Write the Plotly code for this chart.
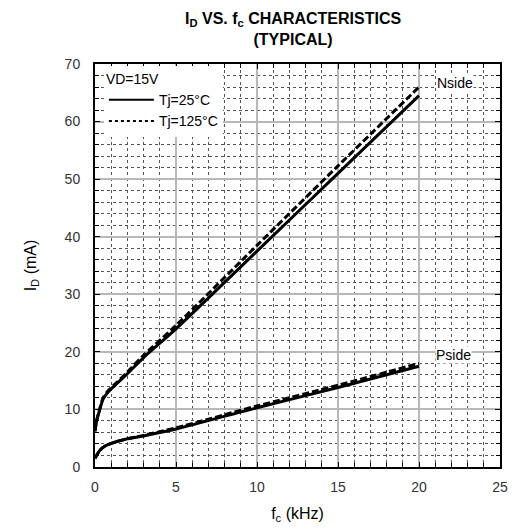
import plotly.graph_objects as go

# Data
fc_n = [0, 0.1, 0.3, 0.5, 0.8, 1.2, 2, 3, 5, 10, 15, 20]
id_n_25 = [6.2, 8.0, 10.0, 11.8, 13.0, 14.1, 16.2, 19.0, 24.0, 37.5, 51.0, 64.5]
id_n_125 = [6.2, 8.1, 10.2, 12.0, 13.2, 14.3, 16.5, 19.4, 24.6, 38.5, 52.3, 66.0]

fc_p = [0, 0.3, 0.6, 1, 2, 3, 5, 10, 15, 20]
id_p_25 = [1.5, 2.9, 3.6, 4.1, 4.9, 5.4, 6.6, 10.3, 13.8, 17.5]
id_p_125 = [1.5, 2.9, 3.6, 4.1, 4.9, 5.5, 6.8, 10.6, 14.2, 18.0]

x_ticks = [0, 5, 10, 15, 20, 25]
y_ticks = [0, 10, 20, 30, 40, 50, 60, 70]

FONT = "Arial, Liberation Sans, sans-serif"

fig = go.Figure()
for xs, ys, dash in [(fc_n, id_n_25, "solid"), (fc_n, id_n_125, "7px,3px"),
                     (fc_p, id_p_25, "solid"), (fc_p, id_p_125, "7px,3px")]:
    fig.add_trace(go.Scatter(x=xs, y=ys, mode="lines", showlegend=False,
                             line=dict(color="black", width=3, dash=dash, shape="spline", smoothing=0.8)))

# legend samples
fig.add_trace(go.Scatter(x=[None], y=[None], mode="lines", name="Tj=25°C",
                         line=dict(color="black", width=2)))
fig.add_trace(go.Scatter(x=[None], y=[None], mode="lines", name="Tj=125°C",
                         line=dict(color="black", width=2, dash="dot")))

fig.add_annotation(x=22.2, y=66.7, text="Nside", showarrow=False, bgcolor="white",
                   font=dict(family=FONT, size=14, color="black"), borderpad=0)
fig.add_annotation(x=22.1, y=19.5, text="Pside", showarrow=False, bgcolor="white",
                   font=dict(family=FONT, size=14, color="black"), borderpad=0)

fig.add_annotation(xref="paper", yref="paper", x=0.49, y=1, xanchor="center", yanchor="bottom",
                   yshift=14, showarrow=False,
                   text="<b>I<sub>D</sub> VS. f<sub>c</sub> CHARACTERISTICS<br>(TYPICAL)</b>",
                   font=dict(family=FONT, size=16, color="black"))

axis_common = dict(showline=True, linecolor="black", linewidth=2, mirror="allticks",
                   ticks="inside", ticklen=5, tickcolor="black", automargin=False,
                   showgrid=True, gridcolor="#b8b8b8", gridwidth=2,
                   zeroline=False, tickfont=dict(family=FONT, size=14, color="#333"))

fig.update_xaxes(range=[0, 25], tickvals=x_ticks, ticktext=[str(v) for v in x_ticks],
                 ticklabelstandoff=6,
                 minor=dict(dtick=1, tick0=0, showgrid=True, gridcolor="#555", griddash="dot",
                            gridwidth=1, ticks="inside", ticklen=4, tickcolor="black"),
                 title=dict(text="f<sub>c</sub> (kHz)", font=dict(family=FONT, size=16, color="black"),
                            standoff=14),
                 **axis_common)
fig.update_yaxes(range=[0, 70], tickvals=y_ticks, ticktext=[str(v) for v in y_ticks],
                 ticklabelstandoff=10,
                 minor=dict(dtick=2, tick0=0, showgrid=True, gridcolor="#555", griddash="dot",
                            gridwidth=1, ticks="inside", ticklen=4, tickcolor="black"),
                 title=dict(text="I<sub>D</sub> (mA)", font=dict(family=FONT, size=16, color="black"),
                            standoff=24),
                 **axis_common)

fig.update_layout(
    width=515, height=529,
    margin=dict(l=95, r=15, t=64, b=62),
    paper_bgcolor="white", plot_bgcolor="white",
    legend=dict(x=0.022, y=0.995, xanchor="left", yanchor="top", bgcolor="white",
                borderwidth=0, title=dict(text="VD=15V", font=dict(family=FONT, size=14, color="black")),
                font=dict(family=FONT, size=14, color="black"), tracegroupgap=0,
                itemwidth=45),
    showlegend=True,
)

fig.write_html("out.html")
